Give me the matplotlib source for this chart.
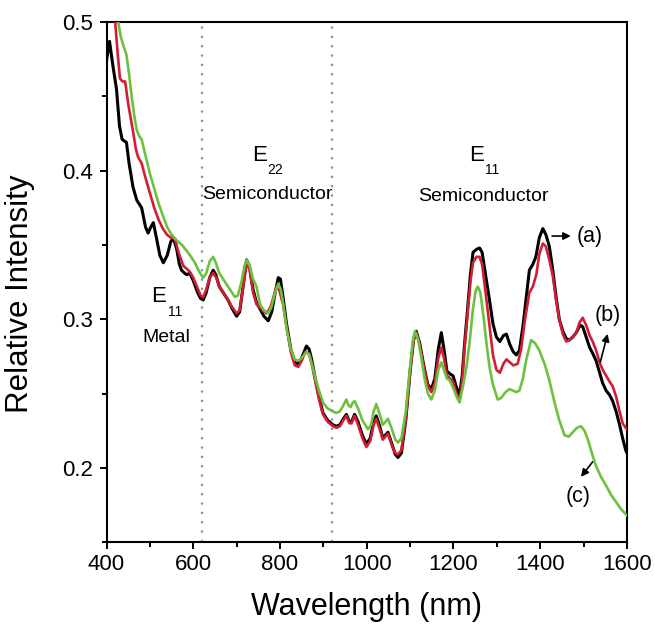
import matplotlib
matplotlib.use("Agg")
import matplotlib.pyplot as plt
from matplotlib.ticker import MultipleLocator

plt.rcParams['font.family'] = ['Liberation Sans', 'DejaVu Sans']

# spectrum (a), black
wl_a = [400, 407, 415, 423, 430, 436, 446, 452, 461, 470, 481, 490, 496, 502, 508, 515, 523, 531, 540, 548,
        554, 562, 568, 573, 580, 585, 592, 600, 610, 617, 623, 630, 638, 646, 652, 660, 669, 680, 690, 700,
        707, 715, 723, 730, 738, 746, 754, 763, 773, 781, 789, 796, 801, 807, 815, 825, 834, 842, 850, 861,
        867, 873, 880, 890, 899, 910, 922, 930, 938, 946, 953, 960, 965, 972, 980, 990, 999, 1008, 1016, 1022,
        1030, 1037, 1043, 1049, 1058, 1066, 1072, 1080, 1090, 1100, 1108, 1114, 1122, 1132, 1141, 1149, 1157,
        1165, 1172, 1178, 1185, 1193, 1199, 1207, 1214, 1220, 1226, 1232, 1239, 1245, 1253, 1260, 1266, 1274,
        1283, 1291, 1299, 1307, 1315, 1322, 1330, 1338, 1345, 1352, 1360, 1368, 1375, 1383, 1390, 1398, 1406,
        1413, 1421, 1429, 1437, 1444, 1452, 1460, 1467, 1475, 1483, 1492, 1498, 1506, 1514, 1521, 1529, 1537,
        1544, 1552, 1560, 1567, 1575, 1583, 1590, 1597, 1600]
int_a = [0.474, 0.487, 0.470, 0.455, 0.430, 0.421, 0.419, 0.405, 0.389, 0.380, 0.375, 0.362, 0.358, 0.362, 0.365,
         0.355, 0.343, 0.338, 0.343, 0.352, 0.355, 0.347, 0.337, 0.333, 0.331, 0.330, 0.331, 0.326, 0.318, 0.314,
         0.313, 0.318, 0.328, 0.333, 0.330, 0.322, 0.318, 0.313, 0.307, 0.302, 0.305, 0.322, 0.340, 0.335, 0.320,
         0.311, 0.307, 0.302, 0.299, 0.305, 0.318, 0.328, 0.327, 0.315, 0.297, 0.280, 0.271, 0.270, 0.274, 0.282,
         0.280, 0.273, 0.262, 0.248, 0.237, 0.232, 0.229, 0.228, 0.229, 0.233, 0.236, 0.231, 0.231, 0.236, 0.231,
         0.222, 0.216, 0.220, 0.231, 0.235, 0.228, 0.220, 0.222, 0.224, 0.216, 0.209, 0.207, 0.210, 0.232, 0.265,
         0.286, 0.292, 0.284, 0.268, 0.256, 0.253, 0.260, 0.280, 0.291, 0.280, 0.265, 0.263, 0.262, 0.254, 0.249,
         0.262, 0.285, 0.305, 0.330, 0.345, 0.347, 0.348, 0.345, 0.330, 0.313, 0.297, 0.288, 0.285, 0.289, 0.290,
         0.283, 0.278, 0.276, 0.279, 0.295, 0.315, 0.333, 0.337, 0.342, 0.355, 0.361, 0.357, 0.349, 0.333, 0.314,
         0.300, 0.292, 0.287, 0.286, 0.288, 0.291, 0.296, 0.295, 0.288, 0.281, 0.277, 0.272, 0.264, 0.257, 0.252,
         0.249, 0.245, 0.238, 0.229, 0.220, 0.212, 0.210]

# spectrum (b), red
wl_b = [400, 410, 420, 426, 431, 437, 443, 450, 456, 462, 468, 473, 481, 490, 500, 510, 520, 530, 539, 548,
        558, 566, 577, 585, 592, 600, 610, 617, 623, 630, 638, 646, 653, 660, 669, 680, 690, 700, 707, 715,
        723, 730, 738, 746, 754, 763, 769, 778, 786, 792, 798, 807, 815, 825, 834, 842, 850, 858, 867, 873,
        880, 890, 899, 910, 922, 930, 938, 946, 953, 960, 965, 972, 980, 990, 999, 1008, 1016, 1022, 1030, 1037,
        1043, 1049, 1058, 1066, 1072, 1080, 1090, 1100, 1108, 1114, 1122, 1132, 1141, 1149, 1157, 1165, 1172,
        1178, 1185, 1193, 1199, 1207, 1214, 1220, 1226, 1232, 1239, 1245, 1253, 1260, 1266, 1274, 1283, 1291,
        1299, 1307, 1315, 1322, 1330, 1338, 1348, 1356, 1365, 1375, 1383, 1391, 1398, 1406, 1413, 1421, 1429,
        1437, 1444, 1452, 1460, 1467, 1475, 1483, 1491, 1498, 1506, 1514, 1521, 1529, 1537, 1544, 1552, 1560,
        1567, 1575, 1583, 1590, 1597, 1600]
int_b = [0.560, 0.530, 0.500, 0.478, 0.462, 0.460, 0.460, 0.445, 0.435, 0.425, 0.414, 0.409, 0.405, 0.395, 0.385,
         0.375, 0.367, 0.361, 0.357, 0.355, 0.354, 0.345, 0.336, 0.334, 0.332, 0.328, 0.321, 0.316, 0.315, 0.320,
         0.328, 0.331, 0.328, 0.322, 0.318, 0.313, 0.308, 0.304, 0.306, 0.322, 0.338, 0.333, 0.318, 0.310, 0.308,
         0.305, 0.304, 0.308, 0.316, 0.322, 0.320, 0.310, 0.295, 0.278, 0.269, 0.268, 0.272, 0.278, 0.277, 0.270,
         0.260, 0.246, 0.236, 0.231, 0.228, 0.227, 0.228, 0.232, 0.235, 0.230, 0.230, 0.235, 0.229, 0.220, 0.214,
         0.218, 0.229, 0.233, 0.226, 0.219, 0.221, 0.223, 0.215, 0.210, 0.209, 0.212, 0.233, 0.265, 0.286, 0.291,
         0.283, 0.267, 0.255, 0.251, 0.257, 0.274, 0.281, 0.274, 0.262, 0.260, 0.258, 0.250, 0.246, 0.258, 0.282,
         0.302, 0.325, 0.338, 0.342, 0.342, 0.337, 0.318, 0.296, 0.276, 0.266, 0.264, 0.270, 0.273, 0.271, 0.269,
         0.270, 0.280, 0.300, 0.318, 0.322, 0.330, 0.344, 0.351, 0.349, 0.340, 0.329, 0.312, 0.300, 0.290, 0.285,
         0.286, 0.288, 0.291, 0.298, 0.301, 0.296, 0.289, 0.285, 0.279, 0.271, 0.266, 0.262, 0.258, 0.255, 0.248,
         0.238, 0.230, 0.227, 0.226]

# spectrum (c), green
wl_c = [400, 415, 427, 433, 439, 446, 452, 458, 464, 470, 476, 481, 490, 500, 510, 520, 531, 540, 550, 562,
        574, 585, 595, 604, 612, 618, 623, 630, 638, 646, 652, 660, 669, 678, 687, 696, 703, 711, 718, 723,
        730, 738, 746, 754, 763, 773, 780, 788, 796, 802, 807, 815, 825, 834, 842, 850, 861, 868, 875, 882,
        890, 899, 910, 922, 930, 938, 946, 953, 958, 963, 968, 972, 980, 990, 1003, 1010, 1016, 1022, 1030,
        1037, 1043, 1049, 1058, 1066, 1072, 1080, 1090, 1100, 1106, 1111, 1118, 1126, 1134, 1141, 1149, 1157,
        1165, 1172, 1178, 1185, 1191, 1199, 1207, 1214, 1222, 1230, 1237, 1245, 1251, 1256, 1262, 1270, 1276,
        1283, 1291, 1302, 1310, 1320, 1329, 1337, 1345, 1352, 1360, 1368, 1379, 1388, 1398, 1410, 1421, 1433,
        1444, 1456, 1466, 1475, 1485, 1494, 1502, 1510, 1520, 1529, 1540, 1552, 1563, 1575, 1587, 1600]
int_c = [0.580, 0.530, 0.500, 0.490, 0.484, 0.478, 0.465, 0.450, 0.437, 0.427, 0.423, 0.421, 0.410, 0.398, 0.388,
         0.378, 0.369, 0.362, 0.357, 0.353, 0.350, 0.346, 0.342, 0.338, 0.333, 0.330, 0.328, 0.331, 0.339, 0.342,
         0.338, 0.331, 0.327, 0.323, 0.319, 0.315, 0.316, 0.325, 0.336, 0.340, 0.336, 0.327, 0.322, 0.310, 0.306,
         0.304, 0.308, 0.317, 0.324, 0.320, 0.311, 0.294, 0.280, 0.273, 0.272, 0.274, 0.278, 0.276, 0.268, 0.260,
         0.252, 0.244, 0.240, 0.238, 0.237, 0.238, 0.242, 0.246, 0.242, 0.241, 0.244, 0.245, 0.240, 0.232, 0.226,
         0.229, 0.238, 0.243, 0.236, 0.229, 0.231, 0.233, 0.226, 0.219, 0.217, 0.220, 0.238, 0.268, 0.285, 0.292,
         0.287, 0.274, 0.259, 0.250, 0.246, 0.252, 0.266, 0.271, 0.266, 0.260, 0.259, 0.254, 0.248, 0.244, 0.255,
         0.268, 0.284, 0.307, 0.319, 0.322, 0.318, 0.300, 0.284, 0.268, 0.256, 0.246, 0.247, 0.251, 0.253, 0.252,
         0.251, 0.252, 0.260, 0.273, 0.286, 0.284, 0.279, 0.270, 0.259, 0.244, 0.232, 0.222, 0.221, 0.224, 0.227,
         0.228, 0.225, 0.219, 0.209, 0.201, 0.194, 0.188, 0.182, 0.177, 0.172, 0.168]

region_edges = [620, 920]

fig = plt.figure(figsize=(6.55, 6.29), dpi=100)
ax = fig.add_axes([0.1626, 0.138, 0.7946, 0.827])

for x0 in region_edges:
    ax.axvline(x0, color='#909090', linestyle=(0, (1, 3.2)), linewidth=1.6, zorder=1)

ax.plot(wl_a, int_a, color='black', linewidth=2.2, zorder=2)
ax.plot(wl_b, int_b, color='#d21d33', linewidth=1.9, zorder=3)
ax.plot(wl_c, int_c, color='#6cc13e', linewidth=1.9, zorder=4)

ax.set_xlim(400, 1600)
ax.set_ylim(0.15, 0.5)
ax.xaxis.set_major_locator(MultipleLocator(200))
ax.xaxis.set_minor_locator(MultipleLocator(100))
ax.yaxis.set_major_locator(MultipleLocator(0.1))
ax.yaxis.set_minor_locator(MultipleLocator(0.05))
ax.yaxis.set_major_formatter(plt.FuncFormatter(lambda v, p: f"{v:.1f}"))
ax.tick_params(which='both', direction='out', width=1.4, labelsize=16, colors='black')
ax.tick_params(which='major', length=5)
ax.tick_params(which='minor', length=3.5)
ax.tick_params(axis='y', which='major', pad=5)
for s in ax.spines.values():
    s.set_linewidth(1.5)

ax.set_xlabel('Wavelength (nm)', fontsize=22, labelpad=12)
ax.set_ylabel('Relative Intensity', fontsize=22.5)
ax.yaxis.set_label_coords(-0.137, 0.478)


def band_label(x, y, sub, name, name_y, name_x=None):
    # letter E with a small lowered subscript, region name underneath
    ax.text(x, y, 'E', fontsize=16, ha='center', va='center')
    ax.annotate(sub, xy=(x, y), xytext=(11.5, -10.5), textcoords='offset points',
                fontsize=10, ha='center', va='center')
    ax.text(name_x if name_x is not None else x, name_y, name, fontsize=14, ha='center', va='center')


band_label(753, 0.410, '22', 'Semiconductor', 0.3837, 772)
band_label(1253, 0.410, '11', 'Semiconductor', 0.3824, 1269)
band_label(521, 0.315, '11', 'Metal', 0.288, 539)

# curve tags
arrow = dict(arrowstyle='-|>', color='black', lw=1.2, mutation_scale=11)
ax.annotate('', xy=(1477, 0.356), xytext=(1421, 0.356), arrowprops=arrow)
ax.text(1513, 0.356, '(a)', fontsize=15.5, ha='center', va='center')
ax.annotate('', xy=(1557, 0.292), xytext=(1537, 0.2695), arrowprops=arrow)
ax.text(1555, 0.3024, '(b)', fontsize=15.5, ha='center', va='center')
ax.annotate('', xy=(1490, 0.1925), xytext=(1525, 0.2056), arrowprops=arrow)
ax.text(1488, 0.181, '(c)', fontsize=15.5, ha='center', va='center')

fig.savefig('out.png', dpi=100)
